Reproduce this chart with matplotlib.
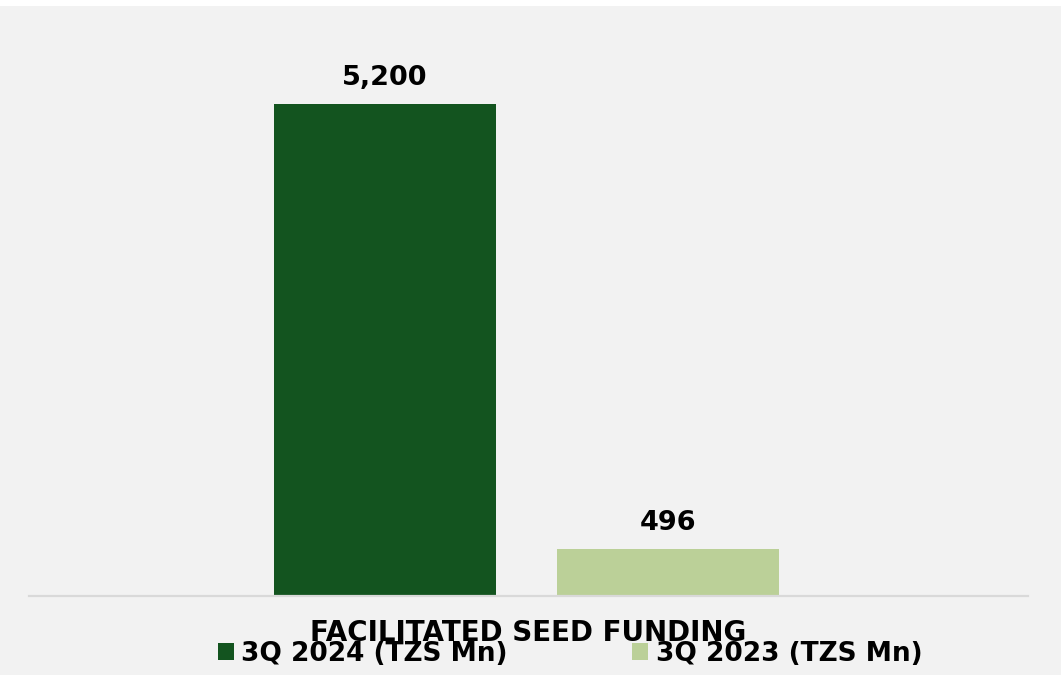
import matplotlib.pyplot as plt
from matplotlib.patches import Patch, Rectangle

series = ['3Q 2024 (TZS Mn)', '3Q 2023 (TZS Mn)']
values = [5200, 496]
labels = ['5,200', '496']
colors = ['#13541f', '#bbd098']
title = 'FACILITATED SEED FUNDING'

plt.rcParams['font.family'] = ['DejaVu Sans']
plt.rcParams['font.weight'] = 'bold'

fig = plt.figure(figsize=(10.61, 6.75), dpi=100, facecolor='white')
# gray chart area below a thin white strip at the top
fig.patches.append(Rectangle((0, 0), 1, 1 - 6 / 675, transform=fig.transFigure,
                             facecolor='#f2f2f2', edgecolor='none', zorder=-5))

ax = fig.add_axes([29 / 1061, 1 - 596 / 675, 999 / 1061, 568 / 675])
ax.set_facecolor('none')

offsets = [-0.144, 0.140]
for off, v, lab, c in zip(offsets, values, labels, colors):
    ax.bar(off, v, width=0.222, color=c, zorder=2)
    ax.annotate(lab, (off, v), xytext=(0, 13.5), textcoords='offset points',
                ha='center', va='baseline', fontsize=19.5, fontweight='bold', color='black')

ax.set_xlim(-0.5, 0.5)
ax.set_ylim(0, 6000)
for s in ['top', 'left', 'right']:
    ax.spines[s].set_visible(False)
ax.spines['bottom'].set_color('#d9d9d9')
ax.spines['bottom'].set_linewidth(1.6)
ax.set_xticks([])
ax.set_yticks([])

fig.text(528 / 1061, 1 - 633 / 675, title, ha='center', va='center',
         fontsize=20, fontweight='bold', color='black')

handles = [Patch(facecolor=c, edgecolor='none') for c in colors]
fig.legend(handles, series, loc='center', bbox_to_anchor=(570 / 1061, 1 - 654 / 675),
           ncol=2, frameon=False, handlelength=0.6, handleheight=0.6,
           handletextpad=0.3, columnspacing=4.7, prop={'weight': 'bold', 'size': 19})

fig.savefig('out.png', dpi=100, facecolor=fig.get_facecolor())
